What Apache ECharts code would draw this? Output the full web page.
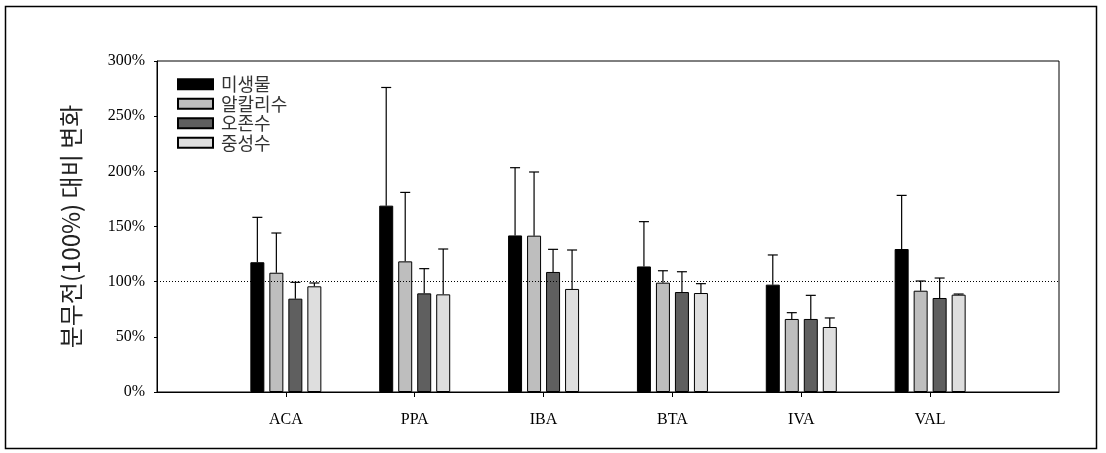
<!DOCTYPE html>
<html>
<head>
<meta charset="utf-8">
<script src="https://cdn.jsdelivr.net/npm/echarts@6/dist/echarts.min.js"></script>
<style>html,body{margin:0;padding:0;background:#fff}#c{width:1106px;height:453px}</style>
</head>
<body>
<div id="c"></div>
<script>
const categories = ['', 'ACA', 'PPA', 'IBA', 'BTA', 'IVA', 'VAL', ''];
const seriesNames = ['미생물', '알칼리수', '오존수', '중성수'];
const yTicks = [0, 50, 100, 150, 200, 250, 300];
// mean values (%) per group ACA..VAL
const microbe  = [117.6, 168.9, 141.9, 113.8, 97.3, 129.6];
const alkaline = [108.1, 118.4, 141.7,  99.1, 66.2,  91.8];
const ozone    = [ 84.6,  89.4, 108.8,  90.6, 66.2,  85.2];
const neutral  = [ 95.8,  88.5,  93.4,  89.7, 58.9,  88.2];
// upper error-bar ends (%)
const microbeTop  = [158.3, 276.0, 203.3, 154.4, 124.2, 178.2];
const alkalineTop = [144.1, 180.9, 199.4, 109.9,  71.9, 100.6];
const ozoneTop    = [ 99.4, 111.8, 129.3, 109.0,  87.6, 103.3];
const neutralTop  = [ 98.8, 129.6, 128.7,  98.2,  67.1,  88.8];
const referenceLevel = 100;

const means = [microbe, alkaline, ozone, neutral];
const tops = [microbeTop, alkalineTop, ozoneTop, neutralTop];
const colors = ['#000000', '#bebebe', '#5f5f5f', '#dedede'];
const barW = 14, gapPx = 5;
const offsets = means.map((_, i) => (i - (means.length - 1) / 2) * (barW + gapPx));

const barSeries = means.map((arr, i) => ({
  name: seriesNames[i],
  type: 'bar',
  barWidth: barW,
  barGap: (gapPx / barW * 100) + '%',
  data: ['-'].concat(arr, ['-']),
  itemStyle: { color: colors[i], borderColor: '#000', borderWidth: 1 },
  z: 3,
  silent: true
}));

const errSeries = tops.map((arr, i) => ({
  type: 'custom',
  z: 4,
  silent: true,
  data: arr.map((t, k) => [k + 1, means[i][k], t]),
  renderItem: function (params, api) {
    const c = api.value(0);
    const base = api.coord([c, api.value(1)]);
    const top = api.coord([c, api.value(2)]);
    const x = base[0] + offsets[i];
    const style = { stroke: '#000', lineWidth: 1.2 };
    return {
      type: 'group',
      children: [
        { type: 'line', shape: { x1: x, y1: base[1], x2: x, y2: top[1] }, style: style },
        { type: 'line', shape: { x1: x - 5, y1: top[1], x2: x + 5, y2: top[1] }, style: style }
      ]
    };
  }
}));

const refSeries = {
  type: 'line',
  data: [],
  z: 1,
  silent: true,
  markLine: {
    silent: true,
    symbol: 'none',
    label: { show: false },
    lineStyle: { color: '#000', type: [1, 2], width: 1 },
    data: [{ yAxis: referenceLevel }]
  }
};

const chart = echarts.init(document.getElementById('c'));
chart.setOption({
  animation: false,
  backgroundColor: '#fff',
  graphic: [{
    type: 'rect',
    shape: { x: 5.5, y: 6.5, width: 1091, height: 442 },
    style: { fill: 'none', stroke: '#000', lineWidth: 1.5 },
    silent: true
  }],
  grid: { left: 157, top: 61, right: 47, bottom: 61, show: true, borderColor: '#000', borderWidth: 1, backgroundColor: 'transparent' },
  legend: {
    data: seriesNames,
    orient: 'vertical',
    left: 172,
    top: 70,
    icon: 'rect',
    itemWidth: 35,
    itemHeight: 10,
    itemGap: 1,
    selectedMode: false,
    textStyle: { fontFamily: 'Noto Sans CJK KR', fontSize: 18, color: '#333', lineHeight: 18.5, padding: [0, 0, 0, 3] }
  },
  xAxis: {
    type: 'category',
    data: categories,
    boundaryGap: false,
    axisLine: { lineStyle: { color: '#000', width: 1 } },
    axisTick: { show: true, length: 5, interval: function (i) { return i > 0 && i < categories.length - 1; }, lineStyle: { color: '#000' } },
    axisLabel: { fontFamily: 'Liberation Serif', fontSize: 16, color: '#000', margin: 20 },
    splitLine: { show: false }
  },
  yAxis: {
    type: 'value',
    min: yTicks[0],
    max: yTicks[yTicks.length - 1],
    interval: 50,
    name: '분무전(100%) 대비 변화',
    nameLocation: 'middle',
    nameGap: 74,
    nameTextStyle: { fontFamily: 'Noto Sans CJK KR', fontSize: 24, color: '#222' },
    axisLine: { show: true, lineStyle: { color: '#000', width: 1 } },
    axisTick: { show: true, length: 3, lineStyle: { color: '#000' } },
    axisLabel: { fontFamily: 'Liberation Serif', fontSize: 16, color: '#000', margin: 12, formatter: '{value}%' },
    splitLine: { show: false }
  },
  series: [refSeries].concat(barSeries, errSeries)
});
</script>
</body>
</html>
